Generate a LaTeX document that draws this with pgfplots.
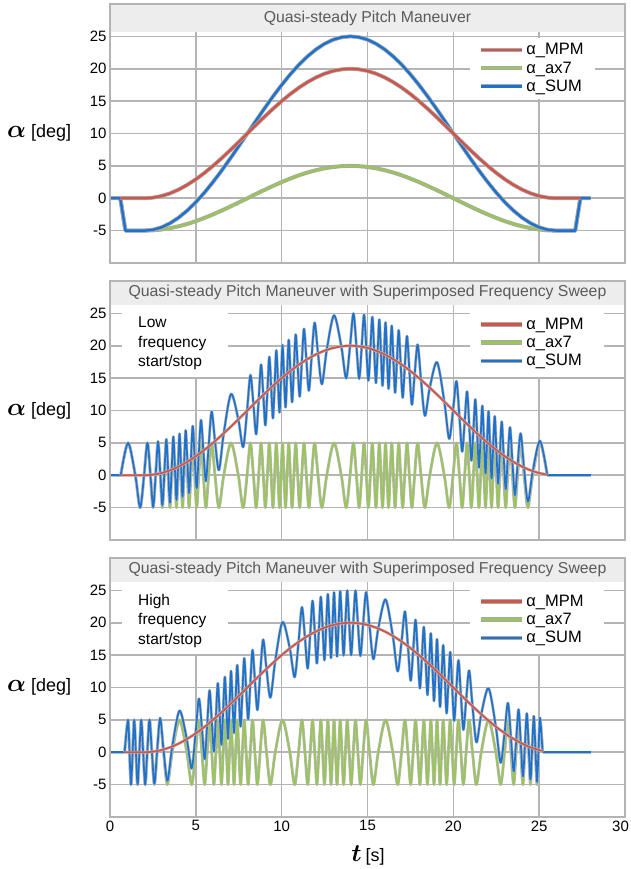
\documentclass[border=0pt]{standalone}
\usepackage{fontspec}
\setmainfont{Liberation Sans}
\usepackage{pgfplots}
\pgfplotsset{compat=1.18}
\definecolor{cR}{RGB}{208,84,74}
\definecolor{cG}{RGB}{156,196,92}
\definecolor{cB}{RGB}{28,114,204}
\definecolor{gridc}{RGB}{180,180,180}
\definecolor{barc}{RGB}{237,237,237}
\definecolor{haloc}{RGB}{168,168,168}
\definecolor{titlec}{RGB}{90,90,90}
\tikzset{
  lineA/.style={line width=2.4pt, line join=round, preaction={draw, haloc, line width=4.0pt, line join=round}},
  lineB/.style={line width=1.7pt, line join=round, preaction={draw, haloc!80, line width=2.9pt, line join=round}},
}
\newcommand{\alab}{{\fontsize{27}{27}\selectfont\boldmath$\alpha$}\hspace{5pt}{\fontsize{18}{18}\selectfont[deg]}}
\pgfplotsset{
  panel/.style={
    scale only axis, width=515pt, height=259pt,
    xmin=0, xmax=30, ymin=-10, ymax=30,
    xtick={0,5,...,30}, ytick={-10,-5,...,30},
    yticklabels={{},-5,0,5,10,15,20,25,{}},
    grid=major, major grid style={gridc, line width=1.6pt},
    axis line style={gridc, line width=1.6pt},
    major tick length=0pt, tick style={draw=none},
    ticklabel style={font=\fontsize{15}{17}\selectfont},
    /pgf/number format/assume math mode=true,
    clip mode=individual,
    legend cell align=left,
    legend image code/.code={\draw[haloc, line width=4.2pt] (0pt,0pt) -- (41pt,0pt); \draw[##1] (0pt,0pt) -- (41pt,0pt);},
    legend style={draw=none, fill=white, font=\fontsize{16.5}{18}\selectfont, inner xsep=9pt, inner ysep=4pt,
      row sep=1.2pt, /tikz/every even column/.append style={column sep=2pt}},
  }
}
\begin{document}
\begin{tikzpicture}
\path[use as bounding box] (0pt,0pt) rectangle (630pt,-869pt);

% ---------------- Panel 1 ----------------
\begin{axis}[panel, at={(110pt,-4pt)}, anchor=north west, xticklabels={},
  legend style={at={(rel axis cs:0.699,0.871)}, anchor=north west}]
\fill[barc] (axis cs:0,25.7) rectangle (axis cs:30,30);
\addlegendimage{cR, line width=2.6pt}
\addlegendimage{cG, line width=2.6pt}
\addlegendimage{cB, line width=2.6pt}
\addplot[cG, lineA, forget plot] coordinates {(0.6,0) (0.9,-5) (2,-5) (2.5,-4.96) (3,-4.83) (3.5,-4.62) (4,-4.33) (4.5,-3.97) (5,-3.54) (5.5,-3.04) (6,-2.5) (6.5,-1.91) (7,-1.29) (7.5,-0.65) (8,0) (8.5,0.65) (9,1.29) (9.5,1.91) (10,2.5) (10.5,3.04) (11,3.54) (11.5,3.97) (12,4.33) (12.5,4.62) (13,4.83) (13.5,4.96) (14,5) (14.5,4.96) (15,4.83) (15.5,4.62) (16,4.33) (16.5,3.97) (17,3.54) (17.5,3.04) (18,2.5) (18.5,1.91) (19,1.29) (19.5,0.65) (20,0) (20.5,-0.65) (21,-1.29) (21.5,-1.91) (22,-2.5) (22.5,-3.04) (23,-3.54) (23.5,-3.97) (24,-4.33) (24.5,-4.62) (25,-4.83) (25.5,-4.96) (26,-5) (27.1,-5) (27.4,0)};
\addplot[cB, lineA, forget plot] coordinates {(0,0) (0.6,0) (0.9,-5) (2,-5) (2.5,-4.87) (3,-4.49) (3.5,-3.86) (4,-2.99) (4.5,-1.90) (5,-0.61) (5.5,0.87) (6,2.5) (6.5,4.26) (7,6.12) (7.5,8.04) (8,10) (8.5,11.96) (9,13.88) (9.5,15.74) (10,17.5) (10.5,19.13) (11,20.61) (11.5,21.90) (12,22.99) (12.5,23.86) (13,24.49) (13.5,24.87) (14,25) (14.5,24.87) (15,24.49) (15.5,23.86) (16,22.99) (16.5,21.90) (17,20.61) (17.5,19.13) (18,17.5) (18.5,15.74) (19,13.88) (19.5,11.96) (20,10) (20.5,8.04) (21,6.12) (21.5,4.26) (22,2.5) (22.5,0.87) (23,-0.61) (23.5,-1.90) (24,-2.99) (24.5,-3.86) (25,-4.49) (25.5,-4.87) (26,-5) (27.1,-5) (27.4,0) (28,0)};
\addplot[cR, lineA, forget plot] coordinates {(0.6,0) (2,0) (2.5,0.09) (3,0.34) (3.5,0.76) (4,1.34) (4.5,2.07) (5,2.93) (5.5,3.91) (6,5) (6.5,6.17) (7,7.41) (7.5,8.69) (8,10) (8.5,11.31) (9,12.59) (9.5,13.83) (10,15) (10.5,16.09) (11,17.07) (11.5,17.93) (12,18.66) (12.5,19.24) (13,19.66) (13.5,19.91) (14,20) (14.5,19.91) (15,19.66) (15.5,19.24) (16,18.66) (16.5,17.93) (17,17.07) (17.5,16.09) (18,15) (18.5,13.83) (19,12.59) (19.5,11.31) (20,10) (20.5,8.69) (21,7.41) (21.5,6.17) (22,5) (22.5,3.91) (23,2.93) (23.5,2.07) (24,1.34) (24.5,0.76) (25,0.34) (25.5,0.09) (26,0) (27.4,0)};
\draw[gridc, line width=1.6pt] (rel axis cs:0,0) rectangle (rel axis cs:1,1);
\node[font=\fontsize{15.8}{18}\selectfont, text=titlec] at (rel axis cs:0.5,0.944) {Quasi-steady Pitch Maneuver};
\legend{α\_MPM, α\_ax7, α\_SUM}
\end{axis}

% ---------------- Panel 2 ----------------
\begin{axis}[panel, at={(110pt,-281pt)}, anchor=north west, xticklabels={},
  legend style={at={(rel axis cs:0.699,0.881)}, anchor=north west}]
\fill[barc] (axis cs:0,26.3) rectangle (axis cs:30,30);
\fill[white] (axis cs:0.7,15.1) rectangle (axis cs:6.85,26.3);
\fill[white] (axis cs:20.97,15.1) rectangle (axis cs:28.8,26.3);
\addlegendimage{cR, line width=2.2pt}
\addlegendimage{cG, line width=2.2pt}
\addlegendimage{cB, line width=2.2pt}
\addplot[cG, lineB, smooth, forget plot] coordinates {(0.626,0) (1.050,5) (1.474,0) (1.756,-5) (1.984,0) (2.180,5) (2.355,0) (2.514,-5) (2.661,0) (2.799,5) (2.929,0) (3.051,-5) (3.169,0) (3.281,5) (3.388,0) (3.492,-5) (3.592,0) (3.689,5) (3.783,0) (3.874,-5) (3.964,0) (4.050,5) (4.136,0) (4.226,-5) (4.317,0) (4.411,5) (4.508,0) (4.608,-5) (4.712,0) (4.819,5) (4.931,0) (5.049,-5) (5.171,0) (5.301,5) (5.439,0) (5.586,-5) (5.745,0) (5.920,5) (6.116,0) (6.344,-5) (6.626,0) (7.050,5)
(7.474,0) (7.756,-5) (7.984,0) (8.180,5) (8.355,0) (8.514,-5) (8.661,0) (8.799,5) (8.929,0) (9.051,-5) (9.169,0) (9.281,5) (9.388,0) (9.492,-5) (9.592,0) (9.689,5) (9.783,0) (9.874,-5) (9.964,0) (10.050,5) (10.136,0) (10.226,-5) (10.317,0) (10.411,5) (10.508,0) (10.608,-5) (10.712,0) (10.819,5) (10.931,0) (11.049,-5) (11.171,0) (11.301,5) (11.439,0) (11.586,-5) (11.745,0) (11.920,5) (12.116,0) (12.344,-5) (12.626,0) (13.050,5)
(13.474,0) (13.756,-5) (13.984,0) (14.180,5) (14.355,0) (14.514,-5) (14.661,0) (14.799,5) (14.929,0) (15.051,-5) (15.169,0) (15.281,5) (15.388,0) (15.492,-5) (15.592,0) (15.689,5) (15.783,0) (15.874,-5) (15.964,0) (16.050,5) (16.136,0) (16.226,-5) (16.317,0) (16.411,5) (16.508,0) (16.608,-5) (16.712,0) (16.819,5) (16.931,0) (17.049,-5) (17.171,0) (17.301,5) (17.439,0) (17.586,-5) (17.745,0) (17.920,5) (18.116,0) (18.344,-5) (18.626,0) (19.050,5)
(19.474,0) (19.756,-5) (19.984,0) (20.180,5) (20.355,0) (20.514,-5) (20.661,0) (20.799,5) (20.929,0) (21.051,-5) (21.169,0) (21.281,5) (21.388,0) (21.492,-5) (21.592,0) (21.689,5) (21.783,0) (21.874,-5) (21.964,0) (22.050,5) (22.136,0) (22.226,-5) (22.317,0) (22.411,5) (22.508,0) (22.608,-5) (22.712,0) (22.819,5) (22.931,0) (23.049,-5) (23.171,0) (23.301,5) (23.439,0) (23.586,-5) (23.745,0) (23.920,5) (24.116,0) (24.344,-5) (24.626,0) (25.050,5) (25.474,0)};
\addplot[cB, lineB, forget plot] coordinates {(0,0) (0.626,0)};
\addplot[cB, lineB, forget plot] coordinates {(25.474,0) (28,0)};
\addplot[cB, lineB, smooth, forget plot] coordinates {(0.626,0) (1.050,5) (1.474,0) (1.756,-5) (1.984,0) (2.180,5.01) (2.355,0.04) (2.514,-4.91) (2.661,0.15) (2.799,5.22) (2.929,0.29) (3.051,-4.62) (3.169,0.46) (3.281,5.56) (3.388,0.65) (3.492,-4.25) (3.592,0.86) (3.689,5.96) (3.783,1.07) (3.874,-3.82) (3.964,1.29) (4.050,6.41) (4.136,1.52) (4.226,-3.35) (4.317,1.78) (4.411,6.93) (4.508,2.08) (4.608,-2.76) (4.712,2.42) (4.819,7.60) (4.931,2.80) (5.049,-1.98) (5.171,3.25) (5.301,8.51) (5.439,3.79) (5.586,-0.91) (5.745,4.43) (5.920,9.82) (6.116,5.27) (6.344,0.80) (6.626,6.48) (7.050,12.54)
(7.474,8.63) (7.756,4.36) (7.984,9.96) (8.180,15.47) (8.355,10.93) (8.514,6.34) (8.661,11.72) (8.799,17.08) (8.929,12.41) (9.051,7.72) (9.169,13.01) (9.281,18.29) (9.388,13.55) (9.492,8.81) (9.592,14.05) (9.689,19.28) (9.783,14.50) (9.874,9.71) (9.964,14.92) (10.050,20.11) (10.136,15.31) (10.226,10.50) (10.317,15.70) (10.411,20.90) (10.508,16.10) (10.608,11.31) (10.712,16.52) (10.819,21.73) (10.931,16.95) (11.049,12.16) (11.171,17.38) (11.301,22.61) (11.439,17.83) (11.586,13.07) (11.745,18.31) (11.920,23.55) (12.116,18.81) (12.344,14.08) (12.626,19.36) (13.050,24.69)
(13.474,19.91) (13.756,14.98) (13.984,20.00) (14.180,24.99) (14.355,19.96) (14.514,14.91) (14.661,19.85) (14.799,24.78) (14.929,19.71) (15.051,14.62) (15.169,19.54) (15.281,24.44) (15.388,19.35) (15.492,14.25) (15.592,19.14) (15.689,24.04) (15.783,18.93) (15.874,13.82) (15.964,18.71) (16.050,23.59) (16.136,18.48) (16.226,13.35) (16.317,18.22) (16.411,23.07) (16.508,17.92) (16.608,12.76) (16.712,17.58) (16.819,22.40) (16.931,17.20) (17.049,11.98) (17.171,16.75) (17.301,21.49) (17.439,16.21) (17.586,10.91) (17.745,15.57) (17.920,20.18) (18.116,14.73) (18.344,9.20) (18.626,13.52) (19.050,17.46)
(19.474,11.37) (19.756,5.64) (19.984,10.04) (20.180,14.53) (20.355,9.07) (20.514,3.66) (20.661,8.28) (20.799,12.92) (20.929,7.59) (21.051,2.28) (21.169,6.99) (21.281,11.71) (21.388,6.45) (21.492,1.19) (21.592,5.95) (21.689,10.72) (21.783,5.50) (21.874,0.29) (21.964,5.08) (22.050,9.89) (22.136,4.69) (22.226,-0.50) (22.317,4.30) (22.411,9.10) (22.508,3.90) (22.608,-1.31) (22.712,3.48) (22.819,8.27) (22.931,3.05) (23.049,-2.16) (23.171,2.62) (23.301,7.39) (23.439,2.17) (23.586,-3.07) (23.745,1.69) (23.920,6.45) (24.116,1.19) (24.344,-4.08) (24.626,0.64) (25.050,5.31) (25.474,0)};
\addplot[cR, lineB, smooth, forget plot] coordinates {(0.63,0) (2,0) (2.5,0.09) (3,0.34) (3.5,0.76) (4,1.34) (4.5,2.07) (5,2.93) (5.5,3.91) (6,5) (6.5,6.17) (7,7.41) (7.5,8.69) (8,10) (8.5,11.31) (9,12.59) (9.5,13.83) (10,15) (10.5,16.09) (11,17.07) (11.5,17.93) (12,18.66) (12.5,19.24) (13,19.66) (13.5,19.91) (14,20) (14.5,19.91) (15,19.66) (15.5,19.24) (16,18.66) (16.5,17.93) (17,17.07) (17.5,16.09) (18,15) (18.5,13.83) (19,12.59) (19.5,11.31) (20,10) (20.5,8.69) (21,7.41) (21.5,6.17) (22,5) (22.5,3.91) (23,2.93) (23.5,2.07) (24,1.34) (24.5,0.76) (25,0.34) (25.47,0.09)};
\draw[gridc, line width=1.6pt] (rel axis cs:0,0) rectangle (rel axis cs:1,1);
\node[font=\fontsize{15.8}{18}\selectfont, text=titlec] at (rel axis cs:0.5,0.957) {Quasi-steady Pitch Maneuver with Superimposed Frequency Sweep};
\node[anchor=north west, align=left, inner sep=0pt, font=\fontsize{15.5}{19.5}\selectfont] at (rel axis cs:0.0544,0.862) {Low\\frequency\\start/stop};
\legend{α\_MPM, α\_ax7, α\_SUM}
\end{axis}

% ---------------- Panel 3 ----------------
\begin{axis}[panel, at={(110pt,-558pt)}, anchor=north west,
  xticklabels={0,5,10,15,20,25,{\hspace*{-9pt}30}},
  legend style={at={(rel axis cs:0.699,0.881)}, anchor=north west}]
\fill[barc] (axis cs:0,26.3) rectangle (axis cs:30,30);
\fill[white] (axis cs:0.7,15.1) rectangle (axis cs:6.85,26.3);
\fill[white] (axis cs:20.97,15.1) rectangle (axis cs:28.8,26.3);
\addlegendimage{cR, line width=2.2pt}
\addlegendimage{cG, line width=2.2pt}
\addlegendimage{cB, line width=2.2pt}
\addplot[cG, lineB, smooth, forget plot] coordinates {(0.85,0) (1.050,5) (1.136,0) (1.226,-5) (1.317,0) (1.411,5) (1.508,0) (1.608,-5) (1.712,0) (1.819,5) (1.931,0) (2.049,-5) (2.171,0) (2.301,5) (2.439,0) (2.586,-5) (2.745,0) (2.920,5) (3.116,0) (3.344,-5) (3.626,0) (4.050,5)
(4.474,0) (4.756,-5) (4.984,0) (5.180,5) (5.355,0) (5.514,-5) (5.661,0) (5.799,5) (5.929,0) (6.051,-5) (6.169,0) (6.281,5) (6.388,0) (6.492,-5) (6.592,0) (6.689,5) (6.783,0) (6.874,-5) (6.964,0) (7.050,5) (7.136,0) (7.226,-5) (7.317,0) (7.411,5) (7.508,0) (7.608,-5) (7.712,0) (7.819,5) (7.931,0) (8.049,-5) (8.171,0) (8.301,5) (8.439,0) (8.586,-5) (8.745,0) (8.920,5) (9.116,0) (9.344,-5) (9.626,0) (10.050,5)
(10.474,0) (10.756,-5) (10.984,0) (11.180,5) (11.355,0) (11.514,-5) (11.661,0) (11.799,5) (11.929,0) (12.051,-5) (12.169,0) (12.281,5) (12.388,0) (12.492,-5) (12.592,0) (12.689,5) (12.783,0) (12.874,-5) (12.964,0) (13.050,5) (13.136,0) (13.226,-5) (13.317,0) (13.411,5) (13.508,0) (13.608,-5) (13.712,0) (13.819,5) (13.931,0) (14.049,-5) (14.171,0) (14.301,5) (14.439,0) (14.586,-5) (14.745,0) (14.920,5) (15.116,0) (15.344,-5) (15.626,0) (16.050,5)
(16.474,0) (16.756,-5) (16.984,0) (17.180,5) (17.355,0) (17.514,-5) (17.661,0) (17.799,5) (17.929,0) (18.051,-5) (18.169,0) (18.281,5) (18.388,0) (18.492,-5) (18.592,0) (18.689,5) (18.783,0) (18.874,-5) (18.964,0) (19.050,5) (19.136,0) (19.226,-5) (19.317,0) (19.411,5) (19.508,0) (19.608,-5) (19.712,0) (19.819,5) (19.931,0) (20.049,-5) (20.171,0) (20.301,5) (20.439,0) (20.586,-5) (20.745,0) (20.920,5) (21.116,0) (21.344,-5) (21.626,0) (22.050,5)
(22.474,0) (22.756,-5) (22.984,0) (23.180,5) (23.355,0) (23.514,-5) (23.661,0) (23.799,5) (23.929,0) (24.051,-5) (24.169,0) (24.281,5) (24.388,0) (24.492,-5) (24.592,0) (24.689,5) (24.783,0) (24.874,-5) (24.964,0) (25.050,5) (25.2,0)};
\addplot[cB, lineB, forget plot] coordinates {(0,0) (0.85,0)};
\addplot[cB, lineB, forget plot] coordinates {(25.2,0) (28,0)};
\addplot[cB, lineB, smooth, forget plot] coordinates {(0.85,0) (1.050,5) (1.136,0) (1.226,-5) (1.317,0) (1.411,5) (1.508,0) (1.608,-5) (1.712,0) (1.819,5) (1.931,0) (2.049,-5) (2.171,0.01) (2.301,5.03) (2.439,0.07) (2.586,-4.88) (2.745,0.19) (2.920,5.29) (3.116,0.42) (3.344,-4.39) (3.626,0.89) (4.050,6.41)
(4.474,2.02) (4.756,-2.51) (4.984,2.90) (5.180,8.27) (5.355,3.61) (5.514,-1.06) (5.661,4.25) (5.799,9.55) (5.929,4.84) (6.051,0.12) (6.169,5.39) (6.281,10.65) (6.388,5.90) (6.492,1.15) (6.592,6.40) (6.689,11.63) (6.783,6.87) (6.874,2.09) (6.964,7.32) (7.050,12.54) (7.136,7.76) (7.226,2.99) (7.317,8.22) (7.411,13.46) (7.508,8.72) (7.608,3.98) (7.712,9.25) (7.819,14.53) (7.931,9.82) (8.049,5.13) (8.171,10.45) (8.301,15.79) (8.439,11.15) (8.586,6.53) (8.745,11.94) (8.920,17.39) (9.116,12.88) (9.344,8.45) (9.626,14.13) (10.050,20.11)
(10.474,16.03) (10.756,11.61) (10.984,17.04) (11.180,22.40) (11.355,17.70) (11.514,12.95) (11.661,18.18) (11.799,23.39) (11.929,18.57) (12.051,13.73) (12.169,18.87) (12.281,24.00) (12.388,19.12) (12.492,14.23) (12.592,19.33) (12.689,24.42) (12.783,19.50) (12.874,14.57) (12.964,19.63) (13.050,24.69) (13.136,19.75) (13.226,14.80) (13.317,19.84) (13.411,24.88) (13.508,19.92) (13.608,14.95) (13.712,19.97) (13.819,24.99) (13.931,20.00) (14.049,15.00) (14.171,19.99) (14.301,24.97) (14.439,19.93) (14.586,14.88) (14.745,19.81) (14.920,24.71) (15.116,19.58) (15.344,14.39) (15.626,19.11) (16.050,23.59)
(16.474,17.98) (16.756,12.51) (16.984,17.10) (17.180,21.73) (17.355,16.39) (17.514,11.06) (17.661,15.75) (17.799,20.45) (17.929,15.16) (18.051,9.88) (18.169,14.61) (18.281,19.35) (18.388,14.10) (18.492,8.85) (18.592,13.60) (18.689,18.37) (18.783,13.13) (18.874,7.91) (18.964,12.68) (19.050,17.46) (19.136,12.24) (19.226,7.01) (19.317,11.78) (19.411,16.54) (19.508,11.28) (19.608,6.02) (19.712,10.75) (19.819,15.47) (19.931,10.18) (20.049,4.87) (20.171,9.55) (20.301,14.21) (20.439,8.85) (20.586,3.47) (20.745,8.06) (20.920,12.61) (21.116,7.12) (21.344,1.55) (21.626,5.87) (22.050,9.89)
(22.474,3.97) (22.756,-1.61) (22.984,2.96) (23.180,7.60) (23.355,2.30) (23.514,-2.95) (23.661,1.82) (23.799,6.61) (23.929,1.43) (24.051,-3.73) (24.169,1.13) (24.281,6.00) (24.388,0.88) (24.492,-4.23) (24.592,0.67) (24.689,5.58) (24.783,0.50) (24.874,-4.57) (24.964,0.37) (25.050,5.31) (25.2,0)};
\addplot[cR, lineB, smooth, forget plot] coordinates {(0.85,0) (2,0) (2.5,0.09) (3,0.34) (3.5,0.76) (4,1.34) (4.5,2.07) (5,2.93) (5.5,3.91) (6,5) (6.5,6.17) (7,7.41) (7.5,8.69) (8,10) (8.5,11.31) (9,12.59) (9.5,13.83) (10,15) (10.5,16.09) (11,17.07) (11.5,17.93) (12,18.66) (12.5,19.24) (13,19.66) (13.5,19.91) (14,20) (14.5,19.91) (15,19.66) (15.5,19.24) (16,18.66) (16.5,17.93) (17,17.07) (17.5,16.09) (18,15) (18.5,13.83) (19,12.59) (19.5,11.31) (20,10) (20.5,8.69) (21,7.41) (21.5,6.17) (22,5) (22.5,3.91) (23,2.93) (23.5,2.07) (24,1.34) (24.5,0.76) (25,0.34) (25.2,0.22)};
\draw[gridc, line width=1.6pt] (rel axis cs:0,0) rectangle (rel axis cs:1,1);
\node[font=\fontsize{15.8}{18}\selectfont, text=titlec] at (rel axis cs:0.5,0.957) {Quasi-steady Pitch Maneuver with Superimposed Frequency Sweep};
\node[anchor=north west, align=left, inner sep=0pt, font=\fontsize{15.5}{19.5}\selectfont] at (rel axis cs:0.0544,0.862) {High\\frequency\\start/stop};
\legend{α\_MPM, α\_ax7, α\_SUM}
\end{axis}

% axis labels
\node[anchor=west, inner sep=0pt] at (7pt,-133pt) {\alab};
\node[anchor=west, inner sep=0pt] at (7pt,-411pt) {\alab};
\node[anchor=west, inner sep=0pt] at (7pt,-687pt) {\alab};
\node[inner sep=0pt] at (368pt,-855pt) {{\fontsize{27}{27}\selectfont\boldmath$t$}\hspace{4pt}{\fontsize{18}{18}\selectfont[s]}};
\end{tikzpicture}
\end{document}
